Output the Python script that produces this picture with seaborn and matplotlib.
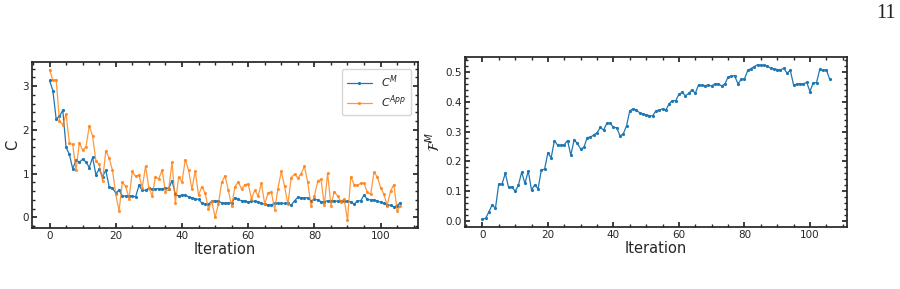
import numpy as np
import matplotlib
matplotlib.use("Agg")
import matplotlib.pyplot as plt
from matplotlib.ticker import AutoMinorLocator
import seaborn as sns

# values, one per iteration (0..106)
c_m = [3.13, 2.90, 2.25, 2.31, 2.45, 1.60, 1.44, 1.11, 1.31, 1.26,
       1.33, 1.27, 1.14, 1.37, 0.98, 1.10, 0.93, 1.08, 0.70, 0.67,
       0.56, 0.62, 0.49, 0.49, 0.50, 0.49, 0.47, 0.73, 0.62, 0.62,
       0.67, 0.65, 0.65, 0.66, 0.65, 0.68, 0.66, 0.84, 0.53, 0.49,
       0.51, 0.51, 0.47, 0.45, 0.43, 0.41, 0.33, 0.31, 0.30, 0.37,
       0.38, 0.37, 0.33, 0.33, 0.33, 0.33, 0.45, 0.41, 0.38, 0.38,
       0.35, 0.37, 0.37, 0.36, 0.32, 0.30, 0.29, 0.29, 0.32, 0.32,
       0.32, 0.32, 0.32, 0.28, 0.38, 0.46, 0.45, 0.44, 0.45, 0.38,
       0.41, 0.40, 0.36, 0.36, 0.38, 0.38, 0.38, 0.37, 0.37, 0.37,
       0.37, 0.36, 0.30, 0.38, 0.38, 0.51, 0.41, 0.40, 0.40, 0.37,
       0.35, 0.32, 0.28, 0.28, 0.24, 0.27, 0.34]

c_app = [3.38, 3.13, 3.15, 2.20, 2.12, 2.36, 1.69, 1.67, 1.08, 1.70,
         1.54, 1.61, 2.09, 1.86, 1.29, 1.21, 0.84, 1.52, 1.36, 1.08,
         0.53, 0.15, 0.80, 0.71, 0.43, 1.05, 0.94, 0.97, 0.68, 1.17,
         0.68, 0.49, 0.93, 0.88, 1.08, 0.59, 0.64, 1.26, 0.33, 0.92,
         0.81, 1.32, 1.08, 0.64, 1.06, 0.51, 0.70, 0.56, 0.19, 0.37,
         0.00, 0.30, 0.80, 0.95, 0.62, 0.26, 0.70, 0.81, 0.65, 0.75,
         0.76, 0.43, 0.62, 0.49, 0.78, 0.30, 0.56, 0.58, 0.18, 0.66,
         1.05, 0.71, 0.30, 0.91, 0.99, 0.90, 1.00, 1.17, 0.80, 0.26,
         0.49, 0.83, 0.87, 0.28, 1.01, 0.27, 0.59, 0.49, 0.36, 0.42,
         -0.07, 0.93, 0.75, 0.73, 0.78, 0.78, 0.57, 0.53, 1.03, 0.93,
         0.68, 0.53, 0.27, 0.60, 0.75, 0.15, 0.27]

f_m = [0.006, 0.009, 0.031, 0.054, 0.043, 0.124, 0.124, 0.160, 0.113, 0.115,
       0.100, 0.120, 0.164, 0.126, 0.168, 0.104, 0.122, 0.108, 0.171, 0.174,
       0.229, 0.212, 0.270, 0.254, 0.254, 0.256, 0.270, 0.221, 0.272, 0.260,
       0.242, 0.247, 0.280, 0.281, 0.289, 0.296, 0.314, 0.305, 0.328, 0.328,
       0.314, 0.313, 0.286, 0.292, 0.319, 0.370, 0.376, 0.372, 0.363, 0.358,
       0.357, 0.353, 0.353, 0.370, 0.372, 0.376, 0.372, 0.393, 0.404, 0.403,
       0.425, 0.431, 0.420, 0.428, 0.440, 0.428, 0.457, 0.455, 0.454, 0.456,
       0.453, 0.460, 0.460, 0.453, 0.459, 0.482, 0.487, 0.487, 0.460, 0.475,
       0.476, 0.505, 0.511, 0.518, 0.524, 0.522, 0.522, 0.520, 0.512, 0.510,
       0.508, 0.507, 0.512, 0.496, 0.505, 0.456, 0.459, 0.460, 0.460, 0.465,
       0.434, 0.464, 0.464, 0.509, 0.505, 0.507, 0.476]

iters = np.arange(len(c_m))

sns.set_theme(style="ticks", rc={
    "xtick.direction": "in", "ytick.direction": "in",
    "xtick.top": True, "ytick.right": True,
    "xtick.minor.visible": True, "ytick.minor.visible": True,
    "xtick.labelsize": 7.5, "ytick.labelsize": 7.5,
    "axes.labelsize": 10.5,
})
plt.rcParams['font.family'] = ['DejaVu Sans']

W, H = 900, 289
fig = plt.figure(figsize=(9, 2.89), dpi=100)

def rect(x0, y0, x1, y1):
    return [x0 / W, 1 - y1 / H, (x1 - x0) / W, (y1 - y0) / H]

ax1 = fig.add_axes(rect(32, 62, 418, 228))
ax2 = fig.add_axes(rect(465, 57, 847, 227))

line_kw = dict(marker='o', markersize=2.3, markeredgewidth=0, linewidth=0.9)
sns.lineplot(x=iters, y=c_m, ax=ax1, color='#1f77b4', label='$C^M$', **line_kw)
sns.lineplot(x=iters, y=c_app, ax=ax1, color='#ff7f0e', alpha=0.8,
             label='$C^{App}$', **line_kw)
ax1.set_xlabel('Iteration', labelpad=1)
ax1.set_ylabel('C', labelpad=2)
ax1.legend(loc='upper right', fontsize=8, handlelength=2.3,
           fancybox=True, framealpha=0.8, edgecolor='0.8',
           borderpad=0.45, labelspacing=0.3, borderaxespad=0.6)

sns.lineplot(x=iters, y=f_m, ax=ax2, color='#1f77b4', **line_kw)
ax2.set_xlabel('Iteration', labelpad=1)
ax2.set_ylabel(r'$\mathcal{F}^M$', labelpad=2)

for ax in (ax1, ax2):
    ax.xaxis.set_minor_locator(AutoMinorLocator())
    ax.yaxis.set_minor_locator(AutoMinorLocator())
    ax.tick_params(which='both', top=True, right=True, direction='in')
    ax.tick_params(which='major', length=3.5, pad=2)
    ax.tick_params(which='minor', length=2)
    ax.set_xticks([0, 20, 40, 60, 80, 100])

fig.text(886 / W, 1 - 14 / H, '11', family='Liberation Serif', fontsize=14.5,
         ha='center', va='center', color='#222222')

fig.savefig('out.png', dpi=100)
